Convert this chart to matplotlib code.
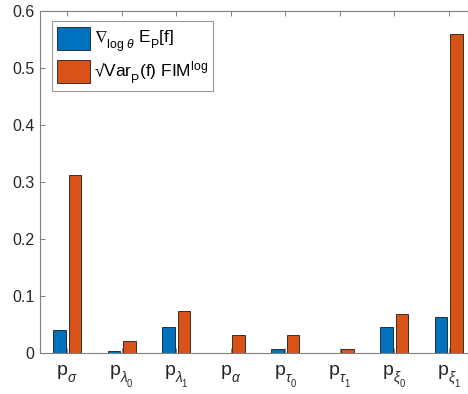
import matplotlib
matplotlib.use("Agg")
import matplotlib.pyplot as plt
import matplotlib._mathtext as mathtext_internal
import numpy as np

plt.rcParams['font.family'] = ['Liberation Sans', 'DejaVu Sans']
plt.rcParams['mathtext.fontset'] = 'custom'
plt.rcParams['mathtext.rm'] = 'Liberation Sans'
plt.rcParams['mathtext.it'] = 'Liberation Sans:italic'
plt.rcParams['mathtext.bf'] = 'Liberation Sans:bold'
plt.rcParams['mathtext.fallback'] = 'stixsans'
# drop subscripts a bit lower, TeX-label style
mathtext_internal.FontConstantsBase.sub1 = 0.75
mathtext_internal.FontConstantsBase.sub2 = 0.75
mathtext_internal.FontConstantsBase.script_space = 0.05

# Parameter names
categories = [r'p$_\sigma$', r'p$_{\lambda_0}$', r'p$_{\lambda_1}$', r'p$_\alpha$',
              r'p$_{\tau_0}$', r'p$_{\tau_1}$', r'p$_{\xi_0}$', r'p$_{\xi_1}$']

# Gradient of log expectation
grad_log = [0.041, 0.0046, 0.0456, 0.0, 0.008, 0.0, 0.0467, 0.0637]
# sqrt(Var) times log Fisher information
var_fim = [0.313, 0.022, 0.0737, 0.0316, 0.0316, 0.007, 0.0695, 0.5596]

series_labels = [r'$\nabla_{\mathrm{log}\ \theta}$ E$_\mathrm{P}$[f]',
                 r'√Var$_\mathrm{P}$(f) FIM$^\mathrm{log}$']
colors = ['#0072BD', '#D95319']

yticks = [0, 0.1, 0.2, 0.3, 0.4, 0.5, 0.6]
ytick_labels = ['0', '0.1', '0.2', '0.3', '0.4', '0.5', '0.6']

fig = plt.figure(figsize=(4.68, 3.94), dpi=100)
ax = fig.add_axes([40 / 468, 1 - 353.3 / 394, 436 / 468, (353.3 - 10.7) / 394])

x = np.arange(1, len(categories) + 1)
width = 0.235
offset = 0.143
ax.bar(x - offset, grad_log, width, color=colors[0], edgecolor='#1a1a1a',
       linewidth=0.6, label=series_labels[0])
ax.bar(x + offset, var_fim, width, color=colors[1], edgecolor='#1a1a1a',
       linewidth=0.6, label=series_labels[1])

ax.set_xlim(0.5, 8.5)
ax.set_ylim(0, 0.6)
ax.set_xticks(x)
ax.set_xticklabels(categories, fontsize=14)
ax.set_yticks(yticks)
ax.set_yticklabels(ytick_labels, fontsize=11.5)

for s in ax.spines.values():
    s.set_color('#808080')
    s.set_linewidth(0.8)
ax.tick_params(direction='in', length=3.5, width=0.7, color='#808080',
               labelcolor='#262626', top=True, right=True)
ax.tick_params(axis='x', pad=7)
ax.tick_params(axis='y', pad=4)

leg = ax.legend(loc='upper left', bbox_to_anchor=(0.0275, 0.969), fontsize=12.5,
                frameon=True, fancybox=False, edgecolor='#808080',
                handlelength=1.9, handleheight=1.66, borderpad=0.3,
                labelspacing=0.24, handletextpad=0.22, borderaxespad=0)
leg.get_frame().set_linewidth(0.8)

fig.savefig('out.png', dpi=100)
